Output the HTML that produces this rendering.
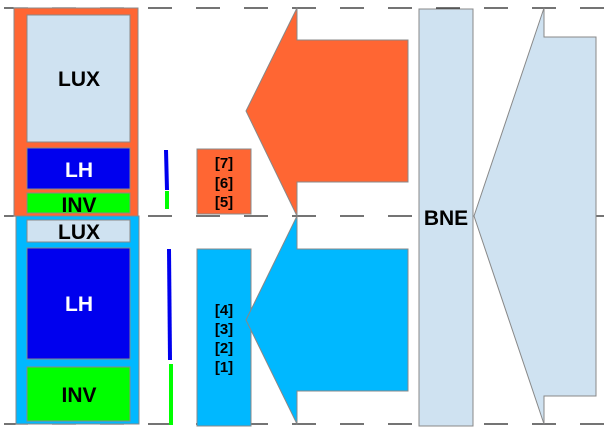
<!DOCTYPE html>
<html><head><style>body{margin:0;background:#fff}svg{display:block}text{font-family:"Liberation Sans",sans-serif;font-weight:bold}</style></head><body>
<svg width="610" height="438" viewBox="0 0 610 438">
<g stroke="#222" stroke-width="1.2" stroke-dasharray="24 24">
<line x1="4" y1="8" x2="610" y2="8"/><line x1="4" y1="216" x2="610" y2="216"/><line x1="4" y1="424" x2="610" y2="424"/>
</g>
<g stroke="#888" stroke-width="1">
<rect x="14" y="8" width="124" height="208" fill="#ff6633"/>
<rect x="27" y="15" width="103" height="127" fill="#cfe2f1"/>
<rect x="27" y="148" width="103" height="41" fill="#0000ee"/>
<rect x="27" y="193" width="103" height="20" fill="#00ff00"/>
<rect x="16" y="216" width="123" height="208" fill="#00b8ff"/>
<rect x="27" y="220" width="103" height="22" fill="#cfe2f1"/>
<rect x="27" y="248" width="103" height="111" fill="#0000ee"/>
<rect x="27" y="367" width="103" height="54" fill="#00ff00"/>
<rect x="197" y="149" width="54" height="65" fill="#ff6633"/>
<rect x="197" y="249" width="54" height="177" fill="#00b8ff"/>
<polygon points="246,111 297,8 297,40 408,40 408,182 297,182 297,216" fill="#ff6633"/>
<polygon points="246,320 297,216 297,249 408,249 408,391 297,391 297,424" fill="#00b8ff"/>
<rect x="419" y="9" width="54" height="417" fill="#cfe2f1"/>
<polygon points="474,216 544,8 544,37 596,37 596,396 544,396 544,424" fill="#cfe2f1"/>
</g>
<polygon points="164,150 168,150 169,190 165,190" fill="#0000ee"/>
<rect x="165" y="191" width="4" height="18" fill="#00ff00"/>
<polygon points="167,249 171,249 172,360 168,360" fill="#0000ee"/>
<rect x="169" y="364" width="4" height="61" fill="#00ff00"/>
<g text-anchor="middle" font-size="21">
<text x="79" y="86">LUX</text>
<text x="79" y="177" fill="#fff">LH</text>
<text x="79" y="212">INV</text>
<text x="79" y="239">LUX</text>
<text x="79" y="311" fill="#fff">LH</text>
<text x="79" y="402">INV</text>
<text x="446" y="225">BNE</text>
</g>
<g text-anchor="middle" font-size="15">
<text x="224" y="168">[7]</text><text x="224" y="188">[6]</text><text x="224" y="207">[5]</text>
<text x="224" y="315">[4]</text><text x="224" y="334">[3]</text><text x="224" y="353">[2]</text><text x="224" y="372">[1]</text>
</g>
</svg>
</body></html>
